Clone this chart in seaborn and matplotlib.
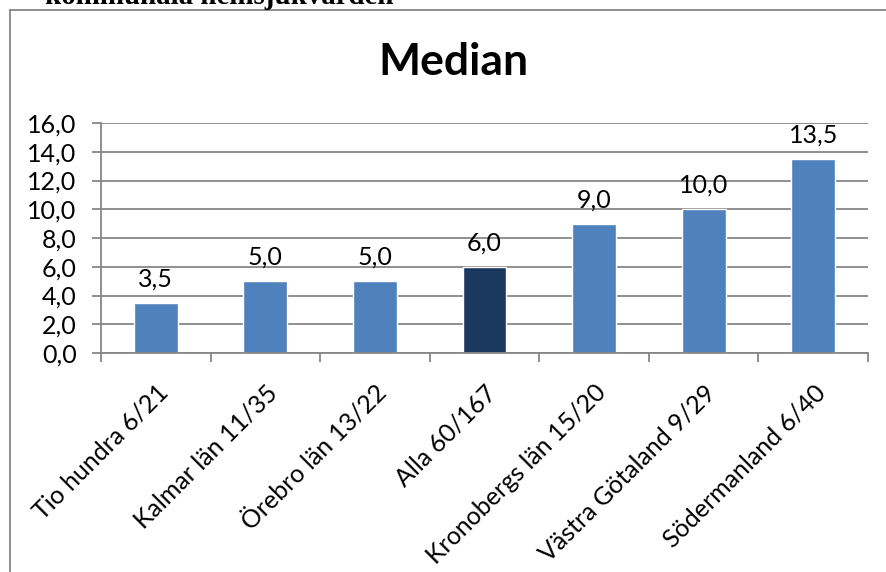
import matplotlib
matplotlib.use("Agg")
import matplotlib.pyplot as plt
from matplotlib.ticker import FuncFormatter, FixedLocator
from matplotlib.lines import Line2D
import seaborn as sns
import pandas as pd

categories = ["Tio hundra 6/21", "Kalmar län 11/35", "Örebro län 13/22", "Alla 60/167",
              "Kronobergs län 15/20", "Västra Götaland 9/29", "Södermanland 6/40"]
values = [3.5, 5.0, 5.0, 6.0, 9.0, 10.0, 13.5]
highlight = ["Alla 60/167"]
title = "Median"
header = "kommunala hemsjukvården"
y_ticks = [0, 2, 4, 6, 8, 10, 12, 14, 16]

BLUE = "#4F81BD"
DARK = "#1B385F"
GRID = "#878787"

sns.set_theme(style="white")
plt.rcParams['font.family'] = ['Lato', 'DejaVu Sans']

df = pd.DataFrame({"cat": categories, "val": values})
palette = {c: (DARK if c in highlight else BLUE) for c in categories}

W, H = 886, 572
fig = plt.figure(figsize=(W / 100, H / 100), dpi=100)
ax = fig.add_axes([101 / W, (H - 353) / H, (868 - 101) / W, (353 - 123) / H])

sns.barplot(data=df, x="cat", y="val", hue="cat", palette=palette, dodge=False,
            width=0.4, legend=False, ax=ax, saturation=1)

ax.set_ylim(0, 16)
ax.set_xlim(-0.5, len(categories) - 0.5)
ax.yaxis.set_major_locator(FixedLocator(y_ticks))
ax.yaxis.set_major_formatter(FuncFormatter(lambda v, p: f"{v:.1f}".replace(".", ",")))
ax.grid(axis="y", color=GRID, linewidth=1.3)
ax.set_axisbelow(True)
ax.set_xlabel("")
ax.set_ylabel("")

for s in ["top", "right"]:
    ax.spines[s].set_visible(False)
for s in ["left", "bottom"]:
    ax.spines[s].set_color(GRID)
    ax.spines[s].set_linewidth(1.3)

ax.tick_params(axis="y", which="major", length=6.5, width=1.3, color=GRID,
               pad=11, labelsize=18, labelcolor="black", left=True)
ax.set_xticks(range(len(categories)))
ax.set_xticklabels(categories, rotation=45, ha="right", rotation_mode="anchor")
ax.tick_params(axis="x", which="major", length=0, pad=20, labelsize=18, labelcolor="black")
ax.set_xticks([i - 0.5 for i in range(len(categories) + 1)], minor=True)
ax.tick_params(axis="x", which="minor", length=6.5, width=1.3, color=GRID, bottom=True)

for cont in ax.containers:
    ax.bar_label(cont, labels=[f"{v:.1f}".replace(".", ",") for v in cont.datavalues],
                 padding=9, fontsize=18, color="black")

fig.text(453 / W, 1 - 62 / H, title, ha="center", va="center", fontsize=32,
         fontweight="bold", color="black")

fig.text(45 / W, 1 - 4 / H, header, ha="left", va="baseline", fontsize=20.8,
         fontweight="bold", family=["Liberation Serif", "DejaVu Serif"], color="black")

# chart frame (left and top edges)
fig.add_artist(Line2D([10 / W, 10 / W], [0, 1 - 10 / H], color=GRID, linewidth=1.3,
                      transform=fig.transFigure))
fig.add_artist(Line2D([10 / W, 1], [1 - 10 / H, 1 - 10 / H], color=GRID, linewidth=1.3,
                      transform=fig.transFigure))

fig.savefig("out.png", dpi=100)
